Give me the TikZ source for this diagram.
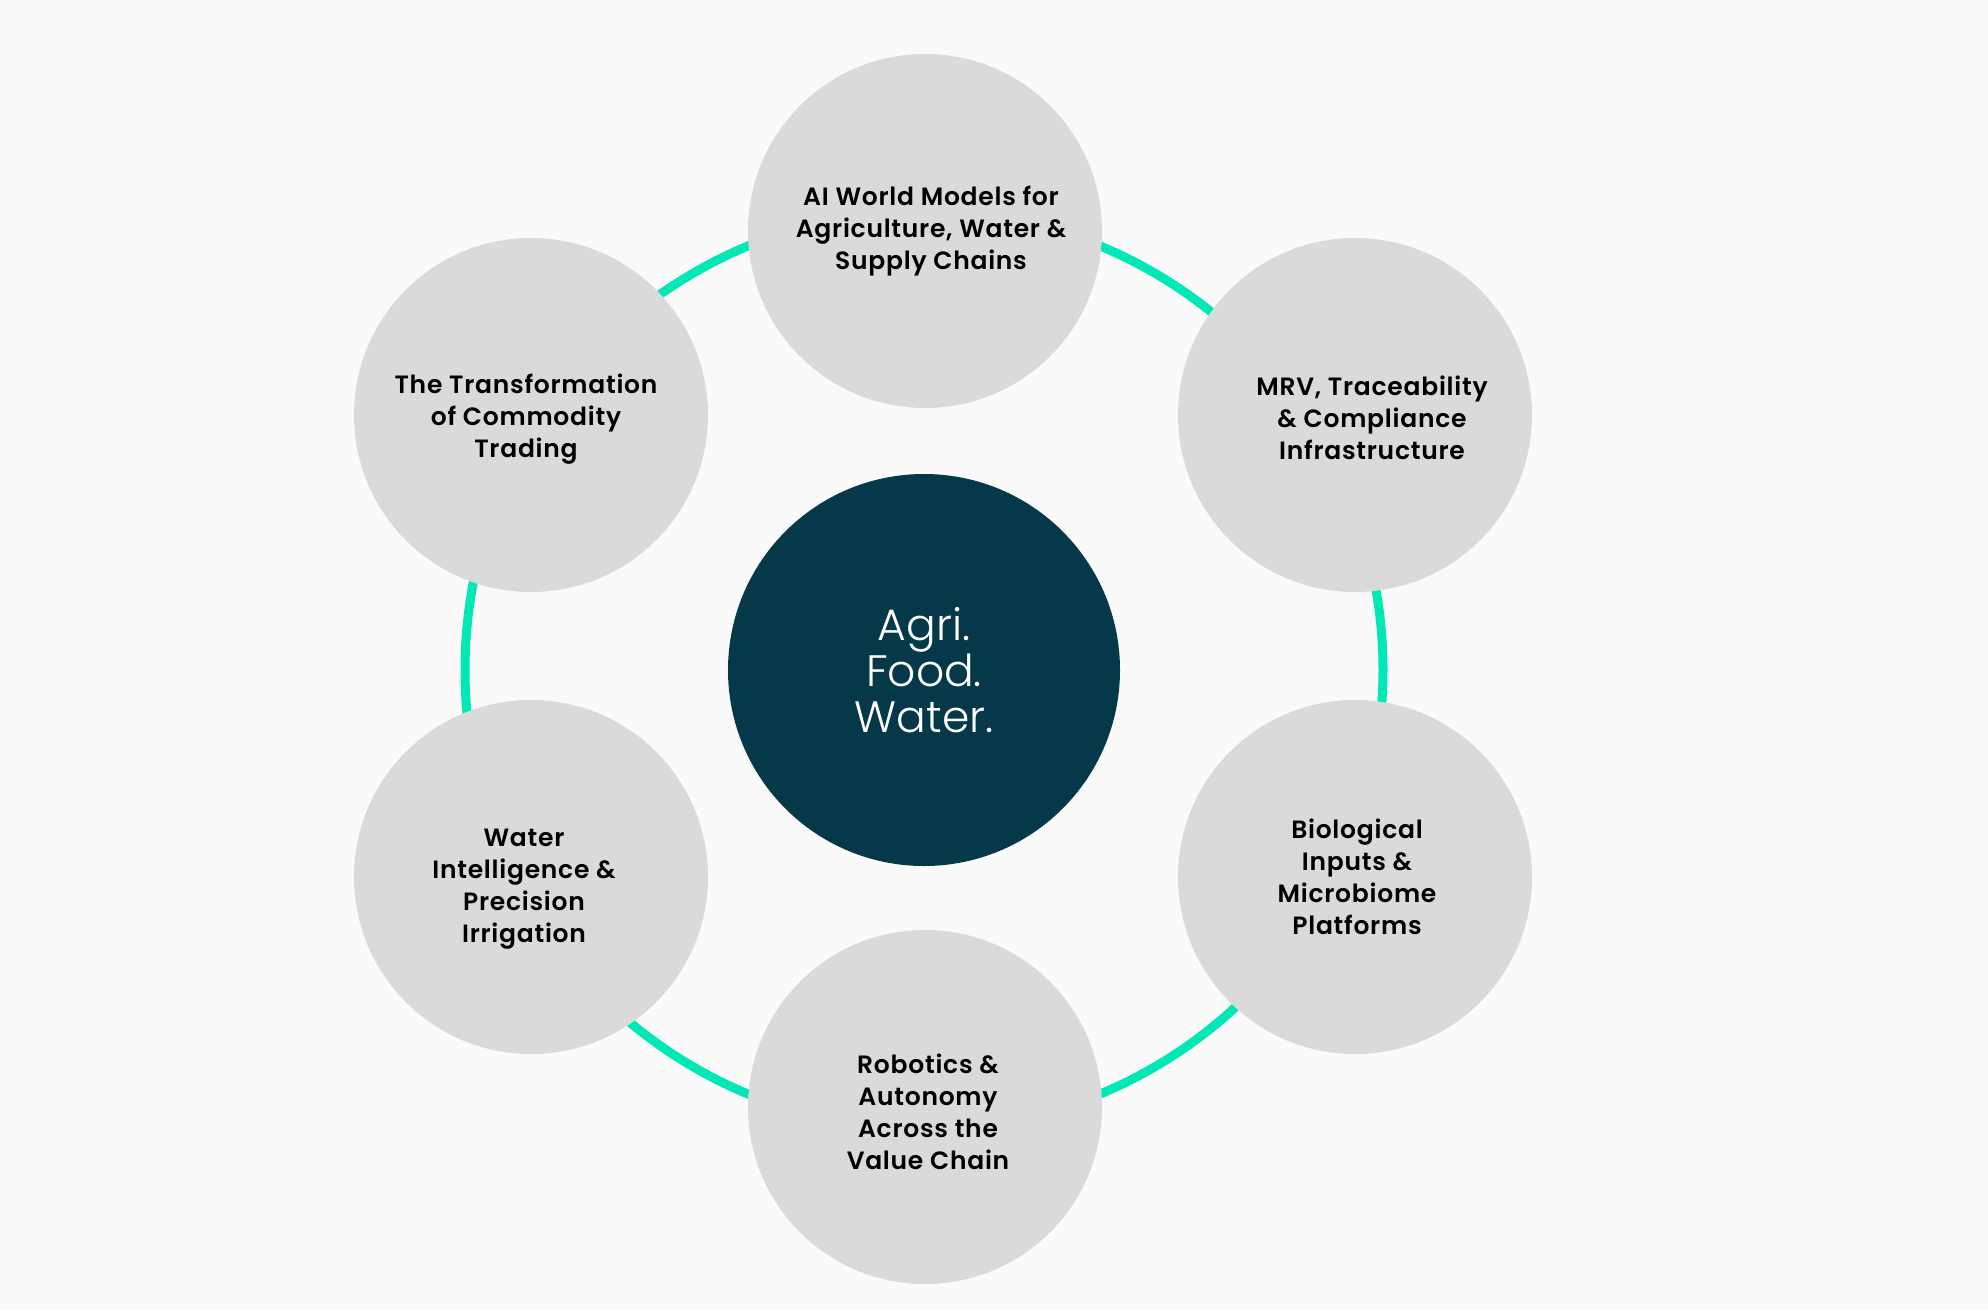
\documentclass[tikz,border=0pt]{standalone}
\usepackage{fontspec}
\setmainfont{Poppins}[BoldFont={Poppins SemiBold},BoldFeatures={LetterSpace=3}]
\newfontfamily\hubfont{Poppins Light}
\usetikzlibrary{positioning}
\definecolor{Paper}{HTML}{FAFAFA}
\definecolor{Mist}{HTML}{DADADA}
\definecolor{Deep}{HTML}{053949}
\definecolor{Aqua}{HTML}{00E8B5}

\begin{document}
\begin{tikzpicture}[x=1pt,y=-1pt,
  topic/.style={circle,fill=Mist,minimum size=354pt,inner sep=0pt},
  blurb/.style={align=center,inner sep=0pt,font=\bfseries\fontsize{25}{32}\selectfont,text=black},
  hub/.style={circle,fill=Deep,minimum size=392pt,inner sep=0pt,align=center,
    font=\hubfont\fontsize{44}{46}\selectfont,text=white},
  ring/.style={draw=Aqua,line width=9pt}]
\useasboundingbox[fill=Paper](0,0)rectangle(1988,1310);
\coordinate(mid)at(924,670);
\draw[ring](mid)circle(459pt);
\node[hub](hub)at(mid){Agri.\\Food.\\Water.};
% six topics round the hub
\node[topic](models)at(925,231){};
\node[topic](mrv)at(1355,415){};
\node[topic](bio)at(1355,877){};
\node[topic](robotics)at(925,1107){};
\node[topic](water)at(531,877){};
\node[topic](trading)at(531,415){};
\node[blurb,xshift=6pt](modelstext)at(models){AI World Models for\\Agriculture, Water \&\\Supply Chains};
\node[blurb,xshift=17pt,yshift=-3pt](mrvtext)at(mrv){MRV, Traceability\\\& Compliance\\Infrastructure};
\node[blurb,xshift=2pt](biotext)at(bio){Biological\\Inputs \&\\Microbiome\\Platforms};
\node[blurb,xshift=3pt,yshift=-5pt](roboticstext)at(robotics){Robotics \&\\Autonomy\\Across the\\Value Chain};
\node[blurb,xshift=-7pt,yshift=-12pt](watertext)at(water){Water\\Intelligence \&\\Precision\\Irrigation};
\node[blurb,xshift=-5pt,yshift=-4pt](tradingtext)at(trading){The Transformation\\of Commodity\\Trading};
\end{tikzpicture}
\end{document}
